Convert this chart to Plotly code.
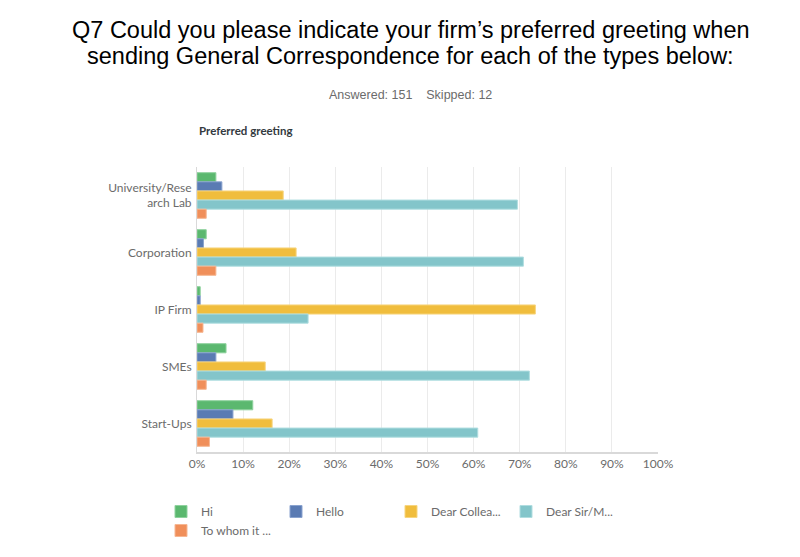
import plotly.graph_objects as go

categories = ["University/Rese<br>arch Lab", "Corporation", "IP Firm", "SMEs", "Start-Ups"]
series_names = ["Hi", "Hello", "Dear Collea...", "Dear Sir/M...", "To whom it ..."]
hi = [4.1, 2.0, 0.7, 6.3, 12.1]
hello = [5.4, 1.4, 0.7, 4.1, 7.8]
dear_colleague = [18.7, 21.5, 73.4, 14.8, 16.3]
dear_sir = [69.5, 70.8, 24.1, 72.1, 60.9]
to_whom = [2.0, 4.1, 1.3, 2.0, 2.7]
x_ticks = list(range(0, 101, 10))
x_tick_labels = [f"{v}%" for v in x_ticks]

colors = ["#5bb86f", "#5a7bb3", "#f0bd3d", "#83c5ca", "#f08f5a"]
edges = ["#8fd29e", "#8aa3cf", "#f7d57f", "#b0dde0", "#f6b793"]
values = [hi, hello, dear_colleague, dear_sir, to_whom]

# page body has an 8px margin; positions below are in page pixels, shifted by OFF
OFF = 8
W, H = 800, 557
L, R, T, B = 197 - OFF, W - (658 - OFF), 167 - OFF, H - (452 - OFF)
PW, PH = W - L - R, H - T - B


def px_x(x):
    return (x - OFF - L) / PW


def px_y(y):
    return (H - B - (y - OFF)) / PH


fig = go.Figure()
for name, vals, c, e in zip(series_names, values, colors, edges):
    fig.add_trace(go.Bar(
        y=categories, x=vals, name=name, orientation="h",
        marker=dict(color=c, line=dict(color=e, width=1)),
    ))

fig.update_layout(
    width=W, height=H,
    margin=dict(l=L, r=R, t=T, b=B),
    paper_bgcolor="white", plot_bgcolor="white",
    barmode="group", bargap=0.2, bargroupgap=0,
    font=dict(family="Lato", size=12, color="#6b6b6b"),
    showlegend=True,
    legend=dict(orientation="h", xref="container", yref="container",
                x=(176 - OFF - 15) / W, y=(H - (512 - OFF - 15)) / H,
                xanchor="left", yanchor="top",
                entrywidth=70, entrywidthmode="pixels",
                font=dict(family="Lato", size=12, color="#6b6b6b"),
                traceorder="normal"),
    xaxis=dict(range=[0, 100], tickvals=x_ticks, ticktext=x_tick_labels,
               showgrid=True, gridcolor="#ebebeb", gridwidth=1,
               showline=True, linecolor="#d9d9d9", linewidth=2,
               zeroline=False, ticks="", ticklen=0,
               tickfont=dict(family="Lato", size=12, color="#6b6b6b")),
    yaxis=dict(autorange="reversed", showline=True, linecolor="#d9d9d9", linewidth=1,
               showgrid=False, ticks="", ticklabelstandoff=2,
               tickfont=dict(family="Lato", size=12, color="#6b6b6b")),
)

fig.add_annotation(
    text="Q7 Could you please indicate your firm’s preferred greeting when",
    xref="paper", yref="paper", x=px_x(410.5), y=px_y(30),
    xanchor="center", yanchor="middle", showarrow=False,
    font=dict(family="Liberation Sans", size=23.5, color="#000000"))
fig.add_annotation(
    text="sending General Correspondence for each of the types below:",
    xref="paper", yref="paper", x=px_x(410.5), y=px_y(56),
    xanchor="center", yanchor="middle", showarrow=False,
    font=dict(family="Liberation Sans", size=23.5, color="#000000"))
fig.add_annotation(
    text="Answered: 151&nbsp;&nbsp;&nbsp;&nbsp;Skipped: 12",
    xref="paper", yref="paper", x=px_x(410), y=px_y(95),
    xanchor="center", yanchor="middle", showarrow=False,
    font=dict(family="Liberation Sans", size=12.5, color="#6b6b6b"))
fig.add_annotation(
    text="<b>Preferred greeting</b>",
    xref="paper", yref="paper", x=px_x(197), y=px_y(130),
    xanchor="left", yanchor="middle", showarrow=False,
    font=dict(family="Lato", size=11.5, color="#333a40"))

fig.write_html("out.html")
